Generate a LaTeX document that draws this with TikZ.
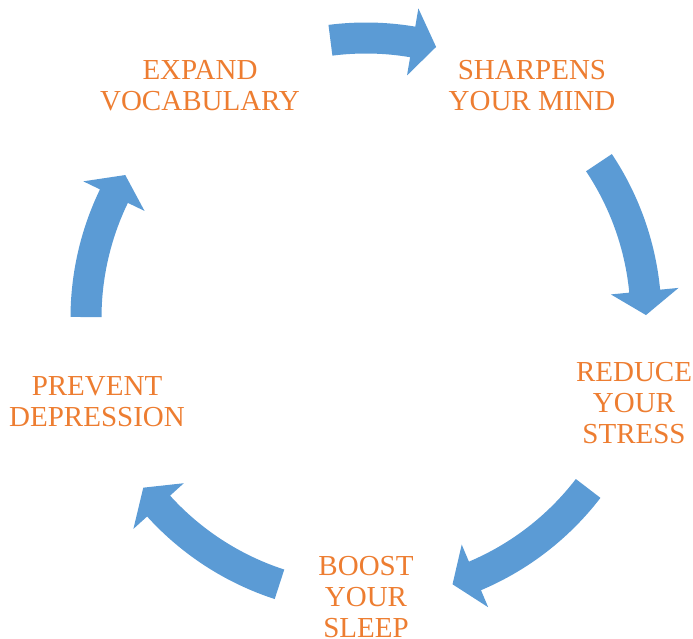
\documentclass[tikz,border=0pt]{standalone}
\usepackage{fontspec}
\setmainfont{Liberation Serif}
\usepackage{xcolor}
\usepackage{tikz}
\usetikzlibrary{calc}

\definecolor{arrowblue}{HTML}{5B9BD5}
\definecolor{textorange}{HTML}{ED7D31}

\begin{document}
\begin{tikzpicture}[
				x=1pt, y=1pt,
				% Defining styles
				step_text/.style={text=textorange, font=\fontsize{29}{31}\selectfont, align=center, inner sep=0pt},
				block_arrow/.style={fill=arrowblue, draw=none}
			]
			\useasboundingbox (0,0) rectangle (693,639);
			\coordinate (C) at (366,321);

			% Placing the five steps round the cycle
			\node[step_text] (S) at (532,553) {SHARPENS\\YOUR MIND};
			\node[step_text] (R) at (634,236) {REDUCE\\YOUR\\STRESS};
			\node[step_text] (B) at (366,42) {BOOST\\YOUR\\SLEEP};
			\node[step_text] (P) at (97,237) {PREVENT\\DEPRESSION};
			\node[step_text] (E) at (200,553) {EXPAND\\VOCABULARY};

			% Drawing the curved block arrows (tail / head base / tip angles)
			\foreach \ta/\ha/\pa in {97.3/80.4/75.5, 33.7/5.5/0.6, -37.5/-67.1/-72, -108/-137.8/-142.7, 179.8/154.2/149.3} {
				\fill[block_arrow] ($(C)+(\ta:295.5)$) arc[start angle=\ta, end angle=\ha, radius=295.5]
					-- ($(C)+(\ha:314)$) -- ($(C)+(\pa:280)$) -- ($(C)+(\ha:246)$) -- ($(C)+(\ha:264.5)$)
					arc[start angle=\ha, end angle=\ta, radius=264.5] -- cycle;
			}

		\end{tikzpicture}
\end{document}
